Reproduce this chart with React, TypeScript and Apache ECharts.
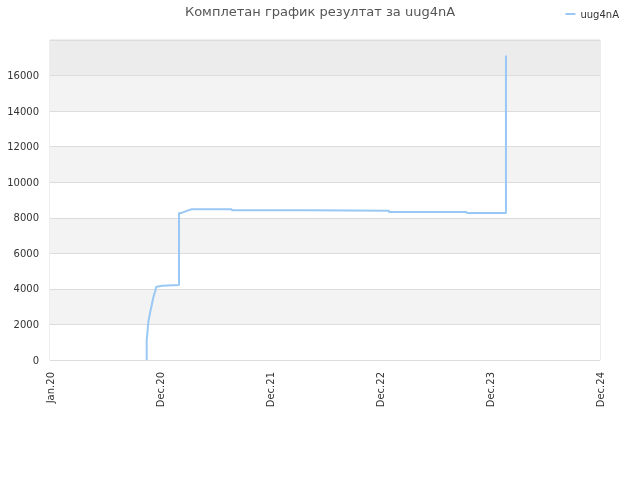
import * as echarts from 'echarts';
import { useEffect, useRef } from 'react';
import type { ECharts } from 'echarts';

const title = 'Комплетан график резултат за uug4nA';
const seriesName = 'uug4nA';

// x tick labels (evenly spaced on the axis)
const xLabels = ['Jan.20', 'Dec.20', 'Dec.21', 'Dec.22', 'Dec.23', 'Dec.24'];

// x positions in tick units (0 = Jan.20, 5 = Dec.24)
const xs = [
  0.879, 0.879, 0.888, 0.894, 0.903, 0.915, 0.925, 0.934, 0.945, 0.955, 0.964,
  0.97, 1.021, 1.121, 1.173, 1.173, 1.197, 1.243, 1.288, 1.652, 1.652, 2.364,
  2.364, 3.082, 3.082, 3.788, 3.788, 4.145, 4.145, 4.145,
];
const ys = [
  0, 1124, 1685, 2150, 2435, 2810, 3090, 3370, 3650, 3840, 4080, 4120, 4175,
  4210, 4215, 8275, 8275, 8390, 8480, 8480, 8427, 8427, 8390, 8390, 8330, 8330,
  8275, 8275, 15260, 17135,
];

const bandColors = [
  '#ffffff', '#f3f3f3', '#ffffff', '#f3f3f3', '#ffffff',
  '#f3f3f3', '#ffffff', '#f3f3f3', '#ececec',
];

const App = () => {
  const chartRef = useRef<HTMLDivElement>(null);

  useEffect(() => {
    let chart: ECharts | null = null;
    if (chartRef.current !== null) {
      chart = echarts.init(chartRef.current, null, { renderer: 'svg' });
    }

    const options = {
      animation: false,
      textStyle: { fontFamily: 'DejaVu Sans' },
      title: {
        text: title,
        left: 'center',
        top: 0,
        textStyle: { fontSize: 13, fontWeight: 'normal', color: '#555' },
      },
      legend: {
        data: [seriesName],
        right: 16,
        top: 4,
        icon: 'rect',
        itemWidth: 10,
        itemHeight: 2,
        textStyle: { fontSize: 10, color: '#333' },
      },
      grid: {
        left: 50,
        right: 40,
        top: 40,
        bottom: 120,
        show: true,
        borderColor: '#dcdcdc',
        borderWidth: 1,
      },
      xAxis: {
        type: 'value',
        min: 0,
        max: 5,
        interval: 1,
        axisLine: { show: false },
        axisTick: { show: false },
        splitLine: { show: false },
        axisLabel: {
          rotate: 90,
          fontSize: 10,
          color: '#333',
          margin: 12,
          formatter: (v: number) => xLabels[Math.round(v)] ?? '',
        },
      },
      yAxis: {
        type: 'value',
        min: 0,
        max: 18000,
        interval: 2000,
        axisLine: { show: false },
        axisTick: { show: false },
        axisLabel: {
          fontSize: 10,
          color: '#333',
          margin: 11,
          formatter: (v: number) => (v === 18000 ? '' : String(v)),
        },
        splitLine: { show: true, lineStyle: { color: '#dcdcdc', width: 1 } },
        splitArea: { show: true, areaStyle: { color: bandColors } },
      },
      series: [
        {
          name: seriesName,
          type: 'line',
          data: xs.map((x, i) => [x, ys[i]]),
          showSymbol: false,
          symbol: 'none',
          color: '#99c8f5',
          lineStyle: { color: '#99c8f5', width: 2 },
        },
      ],
    };

    chart?.setOption(options);

    return () => {
      chart?.dispose();
      chart = null;
    };
  }, []);

  return (
    <div
      ref={chartRef}
      style={{ position: 'fixed', left: 0, top: 0, width: 640, height: 480 }}
    ></div>
  );
};
export default App;
